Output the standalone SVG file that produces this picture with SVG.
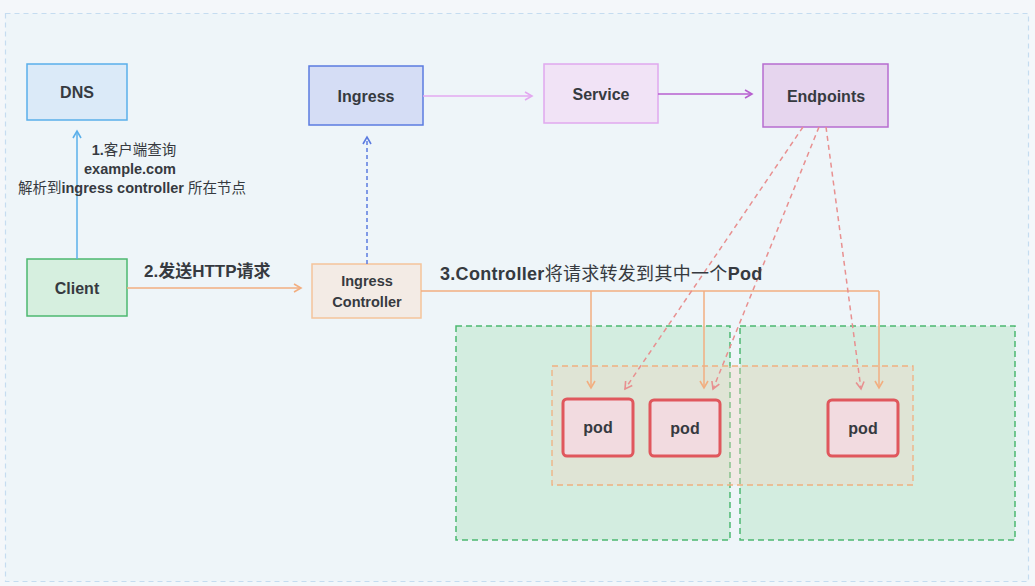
<svg xmlns="http://www.w3.org/2000/svg" width="1035" height="586" viewBox="0 0 1035 586">
<style>
.t{font-family:"Liberation Sans","Noto Sans CJK SC",sans-serif;font-weight:bold;fill:#363a40;text-anchor:middle;dominant-baseline:central}
.lbl{font-family:"Liberation Sans","Noto Sans CJK SC",sans-serif;fill:#363a40}
.pod rect{fill:#f2dbe0;stroke:#e0575d;stroke-width:3}
</style>
<defs>
<marker id="ab" markerWidth="10" markerHeight="10" refX="8" refY="5" orient="auto" markerUnits="userSpaceOnUse"><path d="M1,1 L8,5 L1,9" fill="none" stroke="#5aafea" stroke-width="1.6"/></marker>
<marker id="ao" markerWidth="10" markerHeight="10" refX="8" refY="5" orient="auto" markerUnits="userSpaceOnUse"><path d="M1,1 L8,5 L1,9" fill="none" stroke="#f2ae80" stroke-width="1.6"/></marker>
<marker id="ai" markerWidth="10" markerHeight="10" refX="8" refY="5" orient="auto" markerUnits="userSpaceOnUse"><path d="M1,1 L8,5 L1,9" fill="none" stroke="#5b7be0" stroke-width="1.6"/></marker>
<marker id="ap" markerWidth="10" markerHeight="10" refX="8" refY="5" orient="auto" markerUnits="userSpaceOnUse"><path d="M1,1 L8,5 L1,9" fill="none" stroke="#e3a8f0" stroke-width="1.6"/></marker>
<marker id="av" markerWidth="10" markerHeight="10" refX="8" refY="5" orient="auto" markerUnits="userSpaceOnUse"><path d="M1,1 L8,5 L1,9" fill="none" stroke="#b75fcf" stroke-width="1.6"/></marker>
<marker id="ar" markerWidth="10" markerHeight="10" refX="8" refY="5" orient="auto" markerUnits="userSpaceOnUse"><path d="M1,1 L8,5 L1,9" fill="none" stroke="#e89090" stroke-width="1.6"/></marker>
</defs>
<rect width="1035" height="586" fill="#f4f7fa"/>
<rect x="5.5" y="13.5" width="1023" height="568" fill="#eef5f9" stroke="#c5dcf0" stroke-width="1.2" stroke-dasharray="5 4"/>

<g id="node-green1"><rect x="456" y="326" width="274" height="214" fill="#d3ede0" stroke="#4cb870" stroke-width="1.5" stroke-dasharray="6 4"/></g>
<g id="node-green2"><rect x="740" y="326" width="275" height="214" fill="#d3ede0" stroke="#4cb870" stroke-width="1.5" stroke-dasharray="6 4"/></g>
<g id="node-orangebox"><rect x="552" y="366" width="361" height="119" fill="#f5d5c0" fill-opacity="0.35" stroke="#f0b080" stroke-width="1.3" stroke-dasharray="6 4"/></g>

<g id="node-dns"><rect x="27" y="64" width="100" height="56" fill="#dbeaf8" stroke="#5aafea" stroke-width="1.5"/><text class="t" x="77" y="92" font-size="16">DNS</text></g>
<g id="node-client"><rect x="27" y="259" width="100" height="57" fill="#d6efdf" stroke="#4cb870" stroke-width="1.5"/><text class="t" x="77" y="288" font-size="16">Client</text></g>
<g id="node-ingress"><rect x="309" y="66" width="114" height="59" fill="#d5ddf5" stroke="#5b7be0" stroke-width="1.5"/><text class="t" x="366" y="96" font-size="16">Ingress</text></g>
<g id="node-service"><rect x="544" y="64" width="114" height="59" fill="#f1e3f6" stroke="#e0a8ee" stroke-width="1.5"/><text class="t" x="601" y="94" font-size="16">Service</text></g>
<g id="node-endpoints"><rect x="763" y="64" width="125" height="63" fill="#e6d5ee" stroke="#b76ccf" stroke-width="1.5"/><text class="t" x="826" y="96" font-size="16">Endpoints</text></g>
<g id="node-ic"><rect x="312" y="264" width="109" height="54" fill="#f3ebe5" stroke="#f5c49a" stroke-width="1.5"/><text class="t" x="367" y="281" font-size="14.5">Ingress</text><text class="t" x="367" y="302" font-size="14.5">Controller</text></g>
<g id="node-pod1" class="pod"><rect x="563" y="399" width="70" height="57" rx="4"/><text class="t" x="598" y="427" font-size="16">pod</text></g>
<g id="node-pod2" class="pod"><rect x="650" y="400" width="70" height="56" rx="4"/><text class="t" x="685" y="428" font-size="16">pod</text></g>
<g id="node-pod3" class="pod"><rect x="828" y="400" width="70" height="56" rx="4"/><text class="t" x="863" y="428" font-size="16">pod</text></g>

<g id="connectors" fill="none" stroke-width="1.5">
<line x1="77" y1="259" x2="77" y2="131" stroke="#5aafea" marker-end="url(#ab)"/>
<line x1="127" y1="288" x2="301" y2="288" stroke="#f2ae80" marker-end="url(#ao)"/>
<line x1="367" y1="264" x2="367" y2="137" stroke="#5b7be0" stroke-dasharray="4 3" marker-end="url(#ai)"/>
<line x1="423" y1="96" x2="532" y2="96" stroke="#e3a8f0" marker-end="url(#ap)"/>
<line x1="658" y1="94" x2="752" y2="94" stroke="#b75fcf" marker-end="url(#av)"/>
<path d="M421,291 H879" stroke="#f2ae80"/>
<line x1="591" y1="291" x2="591" y2="388" stroke="#f2ae80" marker-end="url(#ao)"/>
<line x1="704" y1="291" x2="704" y2="388" stroke="#f2ae80" marker-end="url(#ao)"/>
<line x1="879" y1="291" x2="879" y2="388" stroke="#f2ae80" marker-end="url(#ao)"/>
<line x1="803" y1="127" x2="625" y2="389" stroke="#e89090" stroke-dasharray="5 4" marker-end="url(#ar)"/>
<line x1="819" y1="127" x2="713" y2="389" stroke="#e89090" stroke-dasharray="5 4" marker-end="url(#ar)"/>
<line x1="826" y1="127" x2="861" y2="389" stroke="#e89090" stroke-dasharray="5 4" marker-end="url(#ar)"/>
</g>

<g id="labels">
<text class="lbl" x="134" y="155" font-size="14.5" text-anchor="middle"><tspan font-weight="bold">1.</tspan>客户端查询</text>
<text class="lbl" x="130" y="174" font-size="14.5" font-weight="bold" text-anchor="middle">example.com</text>
<text class="lbl" x="132" y="193" font-size="14.5" text-anchor="middle">解析到<tspan font-weight="bold">ingress controller</tspan> 所在节点</text>
<text class="lbl" x="144" y="277" font-size="17" font-weight="bold">2.发送HTTP请求</text>
<text class="lbl" x="440" y="280" font-size="18" font-weight="bold" letter-spacing="0.3">3.Controller<tspan font-weight="normal">将请求转发到其中一个</tspan>Pod</text>
</g>
</svg>
